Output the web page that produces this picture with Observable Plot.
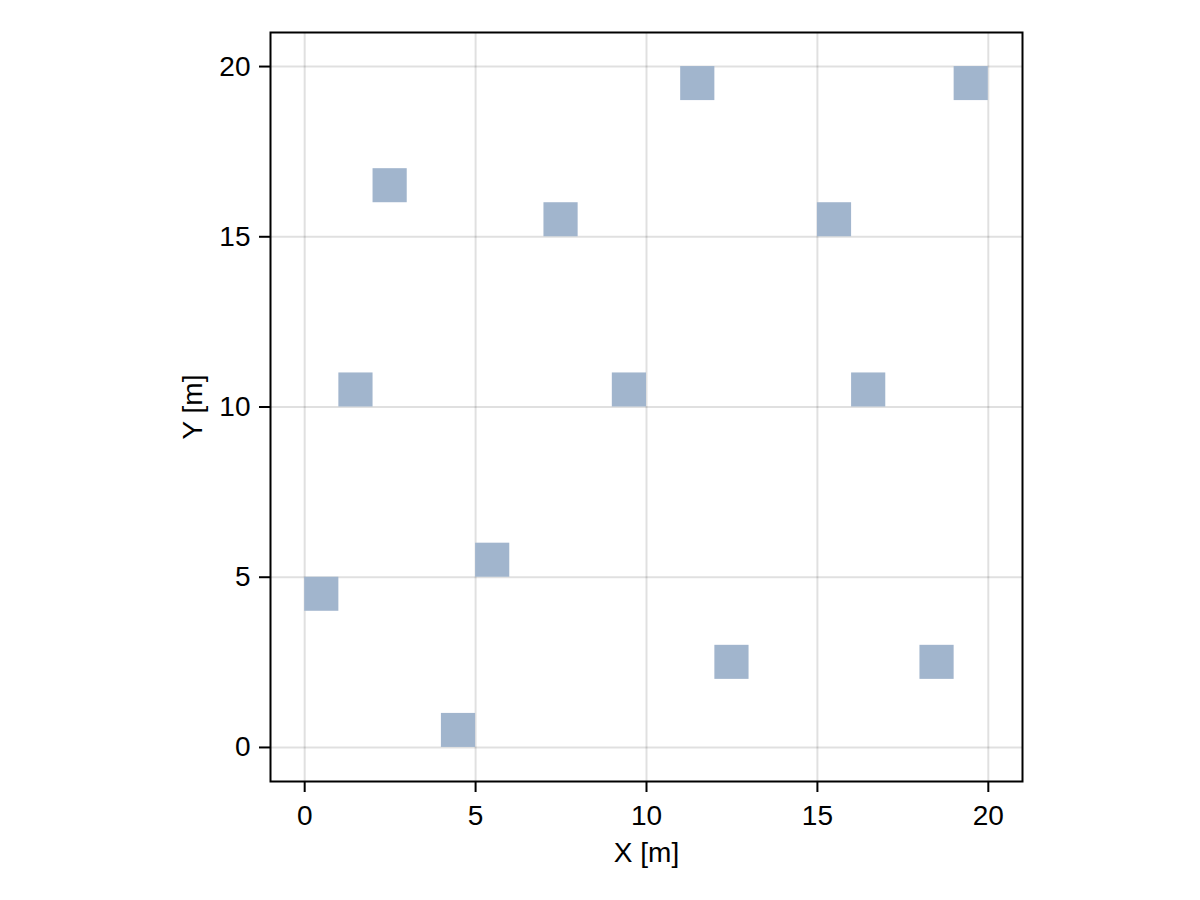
<!DOCTYPE html>
<html>
<head>
<meta charset="utf-8">
<script src="https://cdn.jsdelivr.net/npm/d3@7"></script>
<script src="https://cdn.jsdelivr.net/npm/@observablehq/plot@0.6"></script>
<style>
  html, body { margin: 0; padding: 0; background: #fff; }
  #chart svg { display: block; }
</style>
</head>
<body>
<div id="chart"></div>
<script>
// Lower-left corners of the 1 m × 1 m squares
const xs = [0, 4, 5, 1, 2, 7, 9, 11, 12, 15, 16, 18, 19];
const ys = [4, 0, 5, 10, 16, 15, 10, 19, 2, 15, 10, 2, 19];
const tickValues = [0, 5, 10, 15, 20];
const xLabel = "X [m]";
const yLabel = "Y [m]";

const squares = xs.map((x, i) => ({x, y: ys[i]}));
const font = "'Liberation Sans', Arial, Helvetica, sans-serif";

const chart = Plot.plot({
  width: 1200,
  height: 900,
  marginLeft: 270,
  marginRight: 178,
  marginTop: 32,
  marginBottom: 119,
  style: {fontFamily: font, fontSize: "28px", background: "#fff", color: "#000"},
  x: {domain: [-1, 21]},
  y: {domain: [-1, 21]},
  marks: [
    Plot.gridX(tickValues, {stroke: "#000", strokeOpacity: 0.12, strokeWidth: 2}),
    Plot.gridY(tickValues, {stroke: "#000", strokeOpacity: 0.12, strokeWidth: 2}),
    Plot.rect(squares, {x1: "x", x2: d => d.x + 1, y1: "y", y2: d => d.y + 1, fill: "#a1b5cd"}),
    Plot.frame({stroke: "#000", strokeWidth: 2}),
    Plot.axisX(tickValues, {tickSize: 11, tickPadding: 13, strokeWidth: 2, fontSize: 28, label: null, tickFormat: d => String(d)}),
    Plot.axisY(tickValues, {tickSize: 11, tickPadding: 9, strokeWidth: 2, fontSize: 28, label: null, tickFormat: d => String(d)}),
    Plot.text([xLabel], {frameAnchor: "bottom", dy: 72, lineAnchor: "middle", textAnchor: "middle", fontSize: 28, fill: "#000"}),
    Plot.text([yLabel], {frameAnchor: "left", dx: -77, rotate: -90, lineAnchor: "middle", textAnchor: "middle", fontSize: 28, fill: "#000"})
  ]
});
document.getElementById("chart").appendChild(chart);
</script>
</body>
</html>
